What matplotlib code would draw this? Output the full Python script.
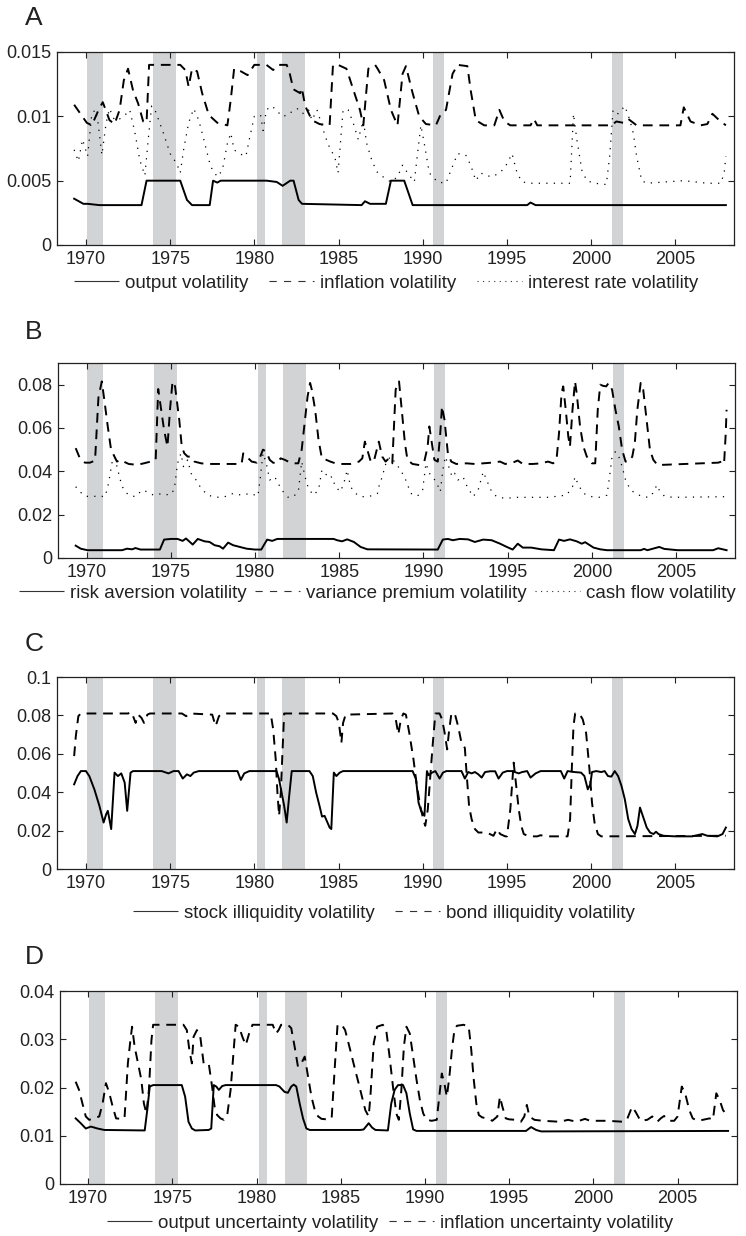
import matplotlib
matplotlib.use("Agg")
import matplotlib.pyplot as plt
from matplotlib.lines import Line2D

plt.rcParams['font.family'] = ['Liberation Sans', 'DejaVu Sans']

# ---------------- recession periods ----------------
rec_start = [1970.05, 1974.0, 1980.15, 1981.67, 1990.63, 2001.25]
rec_end = [1971.0, 1975.36, 1980.64, 1983.0, 1991.28, 2001.9]

xticks = [1970, 1975, 1980, 1985, 1990, 1995, 2000, 2005]

# ---------------- Panel A ----------------
a_out_t = [1969.3, 1969.85, 1970.1, 1970.8, 1973.3, 1973.6, 1975.6, 1976.0, 1976.3, 1977.35, 1977.55,
           1977.8, 1978.0, 1980.73, 1981.33, 1981.68, 1982.13, 1982.33, 1982.63, 1982.83, 1986.37,
           1986.57, 1986.87, 1987.81, 1988.11, 1988.9, 1989.4, 1996.2, 1996.4, 1996.7, 2008.0]
a_out_v = [0.0036, 0.0032, 0.0032, 0.0031, 0.0031, 0.0050, 0.0050, 0.0035, 0.0031, 0.0031, 0.0050,
           0.00485, 0.0050, 0.0050, 0.0049, 0.0046, 0.0050, 0.0050, 0.0035, 0.0032, 0.0031,
           0.0034, 0.0032, 0.0032, 0.0050, 0.0050, 0.0031, 0.0031, 0.0033, 0.0031, 0.0031]

a_inf_t = [1969.3, 1970.05, 1970.35, 1970.75, 1971.0, 1971.4, 1971.7, 1972.0, 1972.25, 1972.5, 1972.8,
           1973.1, 1973.4, 1973.6, 1973.75, 1975.6, 1975.9, 1976.1, 1976.3, 1976.6, 1976.9, 1977.3,
           1977.8, 1978.4, 1978.6, 1978.8, 1979.2, 1979.6, 1980.0, 1980.72, 1981.12, 1981.42, 1981.92,
           1982.07, 1982.32, 1982.72, 1982.82, 1983.02, 1983.42, 1983.87, 1984.47, 1984.67, 1984.97,
           1985.47, 1985.87, 1986.27, 1986.47, 1986.77, 1987.17, 1987.32, 1987.71, 1988.11, 1988.5,
           1988.8, 1989.0, 1989.4, 1989.79, 1990.19, 1990.78, 1991.08, 1991.38, 1991.77, 1992.07,
           1992.65, 1992.85, 1993.15, 1993.65, 1994.25, 1994.55, 1994.85, 1995.2, 1996.4, 1996.6,
           1996.8, 2001.2, 2001.5, 2001.9, 2002.2, 2002.7, 2005.3, 2005.5, 2005.9, 2006.5, 2006.9,
           2007.2, 2007.6, 2008.0]
a_inf_v = [0.0109, 0.0095, 0.0093, 0.0105, 0.0111, 0.0097, 0.0094, 0.0105, 0.0128, 0.0137, 0.0120,
           0.0110, 0.0096, 0.0095, 0.0140, 0.0140, 0.0136, 0.0123, 0.0137, 0.0135, 0.0118, 0.0101,
           0.0095, 0.0093, 0.0113, 0.0137, 0.0135, 0.0132, 0.0140, 0.0140, 0.0136, 0.0140, 0.0140,
           0.0135, 0.0121, 0.0118, 0.0122, 0.0108, 0.0097, 0.0094, 0.0093, 0.0140, 0.0140,
           0.0137, 0.0121, 0.0105, 0.0093, 0.0137, 0.0140, 0.0137, 0.0128, 0.0105, 0.0093,
           0.0133, 0.0139, 0.0118, 0.0100, 0.0094, 0.0093, 0.0102, 0.0105, 0.0133, 0.0140,
           0.0139, 0.0120, 0.0097, 0.0093, 0.0093, 0.0105, 0.0096, 0.0093, 0.0093, 0.0098,
           0.0093, 0.0093, 0.0096, 0.0095, 0.0098, 0.0093, 0.0093, 0.0107, 0.0096, 0.0093, 0.0094,
           0.0102, 0.0097, 0.0093]

a_int_t = [1969.3, 1969.55, 1969.8, 1970.1, 1970.35, 1970.55, 1970.7, 1970.95, 1971.2, 1971.4, 1971.7,
           1972.0, 1972.4, 1972.6, 1972.9, 1973.2, 1973.5, 1973.7, 1973.9, 1974.1, 1974.6, 1975.0,
           1975.4, 1975.6, 1975.8, 1976.1, 1976.4, 1976.7, 1977.0, 1977.4, 1977.8, 1978.1, 1978.4,
           1978.6, 1978.8, 1979.1, 1979.5, 1979.7, 1980.0, 1980.37, 1980.52, 1980.72, 1981.02, 1981.32,
           1981.62, 1982.02, 1982.32, 1982.62, 1982.92, 1983.22, 1983.42, 1983.72, 1983.92, 1984.22,
           1984.52, 1984.77, 1984.97, 1985.27, 1985.57, 1985.87, 1986.17, 1986.47, 1986.67, 1986.97,
           1987.27, 1987.52, 1988.11, 1988.5, 1988.8, 1989.1, 1989.5, 1989.69, 1989.89, 1990.09,
           1990.39, 1990.88, 1991.38, 1991.67, 1992.07, 1992.55, 1992.85, 1993.15, 1993.45, 1993.75,
           1994.15, 1994.65, 1995.0, 1995.3, 1995.6, 1995.9, 1996.4, 1998.75, 1998.95, 1999.15,
           1999.45, 1999.74, 2000.2, 2000.9, 2001.1, 2001.3, 2001.6, 2002.0, 2002.3, 2002.5, 2002.7,
           2003.0, 2003.3, 2005.5, 2006.9, 2007.7, 2007.9, 2008.0]
a_int_v = [0.0074, 0.0065, 0.0082, 0.0069, 0.0102, 0.0105, 0.0097, 0.0070, 0.0095, 0.0106, 0.0097,
           0.0098, 0.0102, 0.0105, 0.0088, 0.0066, 0.0054, 0.0082, 0.0108, 0.0105, 0.0087, 0.0071,
           0.0063, 0.0056, 0.0074, 0.0095, 0.0106, 0.0097, 0.0082, 0.0061, 0.0053, 0.0058, 0.0079,
           0.0087, 0.0074, 0.0071, 0.0069, 0.0082, 0.0100, 0.0101, 0.0089, 0.0105, 0.0108, 0.0105,
           0.0100, 0.0101, 0.0105, 0.0106, 0.0102, 0.0105, 0.0097, 0.0105, 0.0097, 0.0084,
           0.0074, 0.0069, 0.0056, 0.0105, 0.0105, 0.0095, 0.0082, 0.0097, 0.0079, 0.0066,
           0.0057, 0.0054, 0.0049, 0.0053, 0.0062, 0.0056, 0.0049, 0.0071, 0.0093, 0.0079,
           0.0056, 0.0049, 0.0048, 0.0058, 0.0071, 0.0070, 0.0062, 0.0050, 0.0056, 0.0054,
           0.0053, 0.0057, 0.0063, 0.0071, 0.0056, 0.0049, 0.0048, 0.0048, 0.0102, 0.0082,
           0.0058, 0.0050, 0.0048, 0.0047, 0.0069, 0.0105, 0.0102, 0.0108, 0.0097, 0.0087, 0.0069,
           0.0050, 0.0048, 0.0050, 0.0048, 0.0048, 0.0056, 0.0069]

# ---------------- Panel B ----------------
b_ra_t = [1969.35, 1969.65, 1970.05, 1972.1, 1972.4, 1972.7, 1972.9, 1973.2, 1974.35, 1974.6, 1975.0,
          1975.4, 1975.7, 1975.9, 1976.3, 1976.6, 1977.0, 1977.3, 1977.6, 1977.9, 1978.1, 1978.4,
          1978.7, 1979.1, 1979.5, 1980.0, 1980.37, 1980.52, 1980.72, 1981.02, 1981.32, 1984.67,
          1984.87, 1985.17, 1985.47, 1985.87, 1986.27, 1986.67, 1990.85, 1991.15, 1991.45, 1991.75,
          1992.15, 1992.65, 1993.05, 1993.55, 1994.05, 1994.55, 1994.95, 1995.3, 1995.6, 1995.9,
          1996.4, 1997.0, 1997.75, 1998.05, 1998.35, 1998.7, 1999.1, 1999.4, 1999.6, 2000.1, 2000.5,
          2000.9, 2002.9, 2003.1, 2003.3, 2004.0, 2004.3, 2004.7, 2005.1, 2007.2, 2007.5, 2008.0]
b_ra_v = [0.0057, 0.0043, 0.0036, 0.0036, 0.0043, 0.0040, 0.0046, 0.0039, 0.0039, 0.0085, 0.0088,
          0.0088, 0.0079, 0.0090, 0.0062, 0.0088, 0.0077, 0.0074, 0.0059, 0.0054, 0.0043, 0.0071,
          0.0059, 0.0051, 0.0043, 0.0039, 0.0039, 0.0059, 0.0085, 0.0079, 0.0088, 0.0088,
          0.0082, 0.0077, 0.0086, 0.0074, 0.0051, 0.0040, 0.0039, 0.0085, 0.0088, 0.0082,
          0.0088, 0.0086, 0.0074, 0.0085, 0.0082, 0.0066, 0.0051, 0.0039, 0.0066, 0.0048,
          0.0048, 0.0040, 0.0036, 0.0085, 0.0079, 0.0086, 0.0077, 0.0066, 0.0073, 0.0048, 0.0040,
          0.0036, 0.0036, 0.0042, 0.0036, 0.0051, 0.0042, 0.0039, 0.0036, 0.0036, 0.0045, 0.0036]

b_vp_t = [1969.35, 1969.6, 1969.9, 1970.2, 1970.5, 1970.7, 1970.9, 1971.05, 1971.25, 1971.45, 1971.65,
          1971.8, 1972.0, 1972.2, 1972.5, 1973.0, 1973.4, 1973.8, 1974.1, 1974.25, 1974.4, 1974.6,
          1974.8, 1974.95, 1975.1, 1975.25, 1975.5, 1975.65, 1975.8, 1976.0, 1976.2, 1976.4, 1976.8,
          1977.2, 1979.2, 1979.3, 1979.5, 1979.8, 1980.1, 1980.27, 1980.47, 1980.67, 1980.87, 1981.07,
          1981.27, 1981.52, 1981.77, 1981.97, 1982.27, 1982.57, 1982.77, 1982.97, 1983.12, 1983.27,
          1983.37, 1983.57, 1983.77, 1983.97, 1984.17, 1984.47, 1984.77, 1985.17, 1985.67, 1986.17,
          1986.37, 1986.52, 1986.67, 1986.87, 1987.05, 1987.35, 1987.55, 1987.75, 1987.95, 1988.15,
          1988.35, 1988.55, 1988.75, 1988.9, 1989.05, 1989.35, 1989.75, 1990.05, 1990.25, 1990.35,
          1990.5, 1990.65, 1990.85, 1991.0, 1991.1, 1991.25, 1991.45, 1991.65, 1991.95, 1992.55,
          1993.05, 1993.55, 1994.05, 1994.55, 1994.85, 1995.3, 1995.6, 1995.9, 1996.5, 1997.0, 1997.4,
          1997.7, 1997.9, 1998.05, 1998.2, 1998.3, 1998.45, 1998.6, 1998.7, 1998.85, 1999.0, 1999.1,
          1999.3, 1999.5, 1999.7, 2000.0, 2000.2, 2000.35, 2000.5, 2000.65, 2000.85, 2001.0, 2001.2,
          2001.4, 2001.6, 2001.8, 2002.0, 2002.2, 2002.4, 2002.55, 2002.7, 2002.9, 2003.05, 2003.25,
          2003.45, 2003.65, 2003.9, 2007.5, 2007.7, 2007.85, 2007.95, 2008.0]
b_vp_v = [0.0507, 0.0460, 0.0440, 0.0440, 0.0450, 0.0740, 0.0815, 0.0730, 0.0610, 0.0500, 0.0468,
          0.0445, 0.0453, 0.0445, 0.0434, 0.0430, 0.0437, 0.0445, 0.0453, 0.0780, 0.0700, 0.0590,
          0.0514, 0.0684, 0.0815, 0.0792, 0.0638, 0.0514, 0.0483, 0.0468, 0.0468, 0.0445, 0.0437,
          0.0434, 0.0434, 0.0483, 0.0468, 0.0445, 0.0440, 0.0460, 0.0500, 0.0491, 0.0453, 0.0440,
          0.0437, 0.0460, 0.0453, 0.0445, 0.0437, 0.0437, 0.0500, 0.0638, 0.0746, 0.0808, 0.0777,
          0.0684, 0.0545, 0.0460, 0.0455, 0.0445, 0.0437, 0.0434, 0.0434, 0.0445, 0.0460, 0.0537,
          0.0499, 0.0445, 0.0445, 0.0537, 0.0468, 0.0445, 0.0460, 0.0437, 0.0777, 0.0815, 0.0653,
          0.0530, 0.0453, 0.0434, 0.0429, 0.0445, 0.0514, 0.0607, 0.0530, 0.0453, 0.0445, 0.0576,
          0.0700, 0.0638, 0.0483, 0.0445, 0.0434, 0.0437, 0.0434, 0.0437, 0.0440, 0.0445, 0.0434,
          0.0440, 0.0450, 0.0434, 0.0434, 0.0437, 0.0445, 0.0437, 0.0453, 0.0576, 0.0761, 0.0792,
          0.0684, 0.0561, 0.0514, 0.0684, 0.0815, 0.0761, 0.0607, 0.0514, 0.0468, 0.0437, 0.0437,
          0.0684, 0.0800, 0.0795, 0.0792, 0.0808, 0.0777, 0.0684, 0.0607, 0.0499, 0.0445, 0.0445,
          0.0468, 0.0530, 0.0684, 0.0808, 0.0777, 0.0638, 0.0499, 0.0453, 0.0429, 0.0440, 0.0445,
          0.0434, 0.0576, 0.0684]

b_cf_t = [1969.35, 1969.6, 1969.9, 1970.2, 1970.7, 1971.1, 1971.3, 1971.5, 1971.65, 1971.8, 1972.0,
          1972.2, 1972.5, 1972.9, 1973.2, 1973.4, 1973.7, 1974.0, 1974.5, 1974.9, 1975.2, 1975.4,
          1975.6, 1975.75, 1976.0, 1976.2, 1976.5, 1976.8, 1977.2, 1977.7, 1978.2, 1978.7, 1979.2,
          1979.7, 1980.17, 1980.32, 1980.47, 1980.67, 1980.87, 1981.17, 1981.37, 1981.67, 1981.97,
          1982.27, 1982.57, 1982.77, 1982.97, 1983.17, 1983.47, 1983.77, 1983.97, 1984.17, 1984.37,
          1984.57, 1984.77, 1985.07, 1985.27, 1985.47, 1985.67, 1985.97, 1986.27, 1986.67, 1987.07,
          1987.27, 1987.35, 1987.55, 1987.8, 1988.05, 1988.35, 1988.65, 1988.95, 1989.25, 1989.65,
          1989.95, 1990.15, 1990.35, 1990.55, 1990.8, 1991.0, 1991.15, 1991.3, 1991.5, 1991.7, 1991.85,
          1992.05, 1992.35, 1992.55, 1992.95, 1993.25, 1993.55, 1993.75, 1994.05, 1994.35, 1994.85,
          1995.5, 1996.5, 1997.5, 1998.0, 1998.5, 1998.85, 1999.0, 1999.2, 1999.5, 2000.0, 2000.5,
          2000.9, 2001.05, 2001.2, 2001.4, 2001.6, 2001.8, 2002.0, 2002.3, 2002.6, 2003.0, 2003.4,
          2003.7, 2003.85, 2004.0, 2004.3, 2004.8, 2008.0]
b_cf_v = [0.0329, 0.0306, 0.0286, 0.0283, 0.0286, 0.0283, 0.0344, 0.0437, 0.0483, 0.0422, 0.0360,
          0.0314, 0.0290, 0.0283, 0.0306, 0.0314, 0.0298, 0.0290, 0.0298, 0.0290, 0.0314, 0.0437,
          0.0483, 0.0422, 0.0453, 0.0391, 0.0360, 0.0321, 0.0290, 0.0280, 0.0283, 0.0298, 0.0290,
          0.0298, 0.0286, 0.0375, 0.0483, 0.0437, 0.0360, 0.0375, 0.0344, 0.0306, 0.0280,
          0.0283, 0.0306, 0.0445, 0.0375, 0.0321, 0.0290, 0.0314, 0.0406, 0.0391, 0.0368,
          0.0375, 0.0329, 0.0306, 0.0344, 0.0406, 0.0329, 0.0298, 0.0283, 0.0283, 0.0290,
          0.0298, 0.0329, 0.0375, 0.0445, 0.0468, 0.0437, 0.0406, 0.0360, 0.0298, 0.0286,
          0.0314, 0.0437, 0.0391, 0.0375, 0.0344, 0.0306, 0.0406, 0.0468, 0.0422, 0.0375, 0.0391,
          0.0360, 0.0375, 0.0337, 0.0283, 0.0314, 0.0398, 0.0360, 0.0306, 0.0283, 0.0275,
          0.0280, 0.0280, 0.0280, 0.0286, 0.0290, 0.0329, 0.0375, 0.0337, 0.0298, 0.0283, 0.0280,
          0.0290, 0.0375, 0.0468, 0.0491, 0.0468, 0.0422, 0.0360, 0.0314, 0.0298, 0.0283, 0.0280,
          0.0306, 0.0337, 0.0314, 0.0286, 0.0280, 0.0283]

# ---------------- Panel C ----------------
c_st_t = [1969.3, 1969.5, 1969.7, 1970.0, 1970.2, 1970.5, 1970.8, 1971.05, 1971.2, 1971.3, 1971.5,
          1971.7, 1971.9, 1972.1, 1972.3, 1972.45, 1972.65, 1972.8, 1974.5, 1974.9, 1975.2, 1975.5,
          1975.75, 1976.0, 1976.2, 1976.4, 1976.7, 1979.0, 1979.2, 1979.4, 1979.7, 1981.32, 1981.47,
          1981.62, 1981.77, 1981.92, 1982.07, 1982.22, 1983.27, 1983.47, 1983.67, 1983.87, 1984.02,
          1984.17, 1984.47, 1984.57, 1984.72, 1984.87, 1985.07, 1985.27, 1989.4, 1989.6, 1989.75,
          1989.9, 1990.1, 1990.25, 1990.35, 1990.55, 1990.75, 1991.0, 1991.2, 1991.4, 1992.3, 1992.5,
          1992.7, 1992.9, 1993.1, 1993.3, 1993.5, 1993.7, 1994.0, 1994.3, 1994.5, 1994.75, 1995.0,
          1995.3, 1995.7, 1995.9, 1996.2, 1996.4, 1996.7, 1997.0, 1998.2, 1998.4, 1998.6, 1999.0,
          1999.4, 1999.6, 1999.8, 1999.95, 2000.05, 2000.3, 2000.6, 2000.8, 2001.0, 2001.2, 2001.4,
          2001.6, 2001.8, 2002.0, 2002.2, 2002.4, 2002.6, 2002.75, 2002.9, 2003.1, 2003.3, 2003.5,
          2003.7, 2003.85, 2004.0, 2004.3, 2005.0, 2006.0, 2006.6, 2006.9, 2007.5, 2007.8, 2008.0]
c_st_v = [0.0441, 0.0484, 0.0510, 0.0510, 0.0484, 0.0415, 0.0329, 0.0242, 0.0285, 0.0303, 0.0208,
          0.0502, 0.0484, 0.0498, 0.0450, 0.0303, 0.0502, 0.0510, 0.0510, 0.0498, 0.0510, 0.0510,
          0.0471, 0.0493, 0.0484, 0.0502, 0.0510, 0.0510, 0.0464, 0.0498, 0.0510, 0.0510, 0.0467,
          0.0398, 0.0329, 0.0242, 0.0381, 0.0510, 0.0510, 0.0484, 0.0398, 0.0329, 0.0273,
          0.0277, 0.0216, 0.0208, 0.0502, 0.0484, 0.0502, 0.0510, 0.0510, 0.0467, 0.0346,
          0.0303, 0.0277, 0.0510, 0.0488, 0.0502, 0.0510, 0.0471, 0.0502, 0.0510, 0.0510, 0.0471,
          0.0505, 0.0498, 0.0505, 0.0493, 0.0476, 0.0505, 0.0509, 0.0509, 0.0471, 0.0502, 0.0510,
          0.0510, 0.0498, 0.0505, 0.0510, 0.0476, 0.0498, 0.0510, 0.0510, 0.0471, 0.0510, 0.0505,
          0.0502, 0.0484, 0.0415, 0.0441, 0.0505, 0.0510, 0.0505, 0.0510, 0.0484, 0.0481, 0.0510,
          0.0484, 0.0433, 0.0363, 0.0260, 0.0208, 0.0182, 0.0225, 0.0320, 0.0268, 0.0216, 0.0190,
          0.0182, 0.0194, 0.0182, 0.0173, 0.0170, 0.0170, 0.0182, 0.0173, 0.0170, 0.0182, 0.0216]

c_bd_t = [1969.3, 1969.4, 1969.55, 1969.7, 1972.5, 1972.7, 1972.8, 1972.95, 1973.1, 1973.3, 1973.45,
          1973.65, 1973.8, 1975.7, 1975.95, 1976.2, 1977.5, 1977.7, 1977.9, 1978.1, 1980.97, 1981.12,
          1981.27, 1981.37, 1981.47, 1981.57, 1981.67, 1981.77, 1984.67, 1984.87, 1985.02, 1985.17,
          1985.27, 1985.42, 1988.2, 1988.4, 1988.55, 1988.7, 1988.85, 1989.0, 1989.2, 1989.45, 1989.65,
          1989.85, 1990.05, 1990.15, 1990.3, 1990.45, 1990.6, 1990.75, 1991.0, 1991.15, 1991.3,
          1991.45, 1991.55, 1991.7, 1991.9, 1992.1, 1992.3, 1992.5, 1992.6, 1992.75, 1992.9, 1993.1,
          1993.3, 1993.8, 1994.2, 1994.4, 1994.6, 1994.9, 1995.0, 1995.2, 1995.3, 1995.4, 1995.55,
          1995.7, 1995.85, 1996.0, 1996.3, 1996.8, 1997.0, 1997.3, 1998.6, 1998.75, 1998.85, 1998.95,
          1999.05, 1999.3, 1999.5, 1999.7, 1999.9, 2000.05, 2000.2, 2000.4, 2000.6, 2008.0]
c_bd_v = [0.0588, 0.0692, 0.0796, 0.0810, 0.0810, 0.0817, 0.0796, 0.0761, 0.0804, 0.0787, 0.0761,
          0.0804, 0.0810, 0.0810, 0.0796, 0.0810, 0.0804, 0.0744, 0.0796, 0.0810, 0.0810, 0.0727,
          0.0571, 0.0398, 0.0277, 0.0398, 0.0606, 0.0810, 0.0810, 0.0796, 0.0761, 0.0657,
          0.0761, 0.0804, 0.0810, 0.0779, 0.0701, 0.0779, 0.0810, 0.0804, 0.0709, 0.0571, 0.0433,
          0.0329, 0.0251, 0.0225, 0.0311, 0.0484, 0.0657, 0.0810, 0.0810, 0.0779, 0.0709,
          0.0623, 0.0709, 0.0810, 0.0810, 0.0744, 0.0657, 0.0631, 0.0502, 0.0329, 0.0260, 0.0208,
          0.0190, 0.0190, 0.0173, 0.0208, 0.0182, 0.0170, 0.0170, 0.0311, 0.0433, 0.0554, 0.0433,
          0.0311, 0.0225, 0.0182, 0.0170, 0.0170, 0.0176, 0.0170, 0.0170, 0.0260, 0.0519, 0.0744,
          0.0810, 0.0810, 0.0779, 0.0709, 0.0519, 0.0346, 0.0242, 0.0182, 0.0170, 0.0173]

# ---------------- Panel D ----------------
d_out_t = [1969.26, 1969.56, 1969.86, 1970.16, 1970.56, 1970.96, 1973.36, 1973.51, 1973.66, 1973.86,
           1975.56, 1975.76, 1975.96, 1976.16, 1976.36, 1977.16, 1977.31, 1977.46, 1977.61, 1977.76,
           1977.96, 1978.16, 1981.16, 1981.36, 1981.66, 1981.86, 1982.06, 1982.21, 1982.36, 1982.56,
           1982.76, 1982.96, 1983.16, 1986.16, 1986.36, 1986.66, 1986.86, 1987.06, 1987.8, 1988.0,
           1988.2, 1988.4, 1988.7, 1988.9, 1989.1, 1989.3, 1989.5, 1996.0, 1996.3, 1996.6, 1996.9,
           2008.0]
d_out_v = [0.0136, 0.0126, 0.0115, 0.0119, 0.0115, 0.0112, 0.0111, 0.0153, 0.0202, 0.0205,
           0.0205, 0.0181, 0.0129, 0.0115, 0.0111, 0.0112, 0.0115, 0.0205, 0.0202, 0.0195,
           0.0203, 0.0205, 0.0205, 0.0202, 0.0191, 0.0189, 0.0202, 0.0206, 0.0202, 0.0167,
           0.0136, 0.0115, 0.0112, 0.0112, 0.0113, 0.0126, 0.0117, 0.0112, 0.0111, 0.0167,
           0.0195, 0.0205, 0.0205, 0.0188, 0.0146, 0.0113, 0.0110, 0.0110, 0.0118, 0.0112, 0.0109,
           0.0110]

d_inf_t = [1969.26, 1969.46, 1969.66, 1969.86, 1970.06, 1970.36, 1970.66, 1970.86, 1971.06, 1971.26,
           1971.46, 1971.66, 1971.96, 1972.16, 1972.36, 1972.51, 1972.61, 1972.76, 1972.96, 1973.16,
           1973.31, 1973.46, 1973.61, 1973.76, 1973.86, 1975.66, 1975.86, 1976.01, 1976.16, 1976.26,
           1976.46, 1976.66, 1976.86, 1977.16, 1977.36, 1977.51, 1977.66, 1977.86, 1978.06, 1978.26,
           1978.46, 1978.61, 1978.76, 1978.96, 1979.16, 1979.36, 1979.56, 1979.76, 1980.96, 1981.16,
           1981.31, 1981.46, 1981.86, 1982.06, 1982.26, 1982.46, 1982.66, 1982.86, 1983.06, 1983.26,
           1983.46, 1983.66, 1983.86, 1984.16, 1984.46, 1984.66, 1984.81, 1985.06, 1985.26, 1985.46,
           1985.66, 1985.86, 1986.06, 1986.26, 1986.46, 1986.66, 1986.76, 1986.96, 1987.16, 1987.5,
           1987.7, 1987.9, 1988.1, 1988.3, 1988.45, 1988.6, 1988.75, 1988.9, 1989.1, 1989.3, 1989.5,
           1989.7, 1989.9, 1990.1, 1990.4, 1990.7, 1990.85, 1991.0, 1991.15, 1991.3, 1991.45, 1991.6,
           1991.75, 1991.9, 1992.3, 1992.6, 1992.75, 1992.9, 1993.05, 1993.2, 1993.4, 1993.7, 1994.0,
           1994.3, 1994.45, 1994.6, 1994.8, 1995.0, 1995.4, 1995.7, 1995.9, 1996.05, 1996.2, 1996.5,
           1997.0, 1998.0, 1998.5, 1999.0, 1999.5, 1999.8, 2000.8, 2001.8, 2002.0, 2002.3, 2002.5,
           2002.8, 2003.2, 2003.5, 2003.8, 2004.0, 2004.2, 2004.5, 2004.8, 2005.0, 2005.25, 2005.45,
           2005.7, 2005.9, 2006.2, 2006.5, 2006.9, 2007.1, 2007.3, 2007.5, 2007.7, 2008.0]
d_inf_v = [0.0212, 0.0195, 0.0167, 0.0140, 0.0133, 0.0136, 0.0140, 0.0167, 0.0209, 0.0188,
           0.0160, 0.0136, 0.0135, 0.0136, 0.0250, 0.0298, 0.0326, 0.0285, 0.0250, 0.0216,
           0.0167, 0.0146, 0.0195, 0.0298, 0.0330, 0.0330, 0.0319, 0.0278, 0.0250, 0.0305,
           0.0319, 0.0305, 0.0250, 0.0250, 0.0202, 0.0160, 0.0143, 0.0136, 0.0133, 0.0143,
           0.0195, 0.0264, 0.0330, 0.0326, 0.0305, 0.0288, 0.0312, 0.0330, 0.0330, 0.0312,
           0.0319, 0.0330, 0.0330, 0.0323, 0.0285, 0.0243, 0.0250, 0.0264, 0.0222, 0.0181,
           0.0153, 0.0140, 0.0135, 0.0134, 0.0136, 0.0250, 0.0330, 0.0330, 0.0319, 0.0292,
           0.0264, 0.0236, 0.0209, 0.0181, 0.0153, 0.0140, 0.0181, 0.0292, 0.0326, 0.0330,
           0.0319, 0.0264, 0.0202, 0.0146, 0.0133, 0.0195, 0.0285, 0.0326, 0.0312, 0.0264, 0.0216,
           0.0174, 0.0146, 0.0133, 0.0131, 0.0133, 0.0181, 0.0229, 0.0209, 0.0181, 0.0222, 0.0278,
           0.0319, 0.0328, 0.0330, 0.0326, 0.0278, 0.0216, 0.0167, 0.0143, 0.0138, 0.0136, 0.0131,
           0.0140, 0.0181, 0.0160, 0.0136, 0.0134, 0.0133, 0.0129, 0.0140, 0.0164, 0.0140, 0.0133,
           0.0131, 0.0129, 0.0133, 0.0129, 0.0135, 0.0131, 0.0131, 0.0129, 0.0134, 0.0160, 0.0150,
           0.0131, 0.0133, 0.0140, 0.0129, 0.0136, 0.0141, 0.0131, 0.0131, 0.0140, 0.0202, 0.0188,
           0.0153, 0.0136, 0.0131, 0.0133, 0.0136, 0.0133, 0.0188, 0.0174, 0.0153, 0.0140]

# ---------------- styles ----------------
SOLID = dict(color='black', lw=1.4, linestyle='-')
DASH = dict(color='black', lw=1.4, linestyle=(0, (5, 3.5)))
DOT = dict(color='black', lw=0.9, linestyle=(0, (1, 5)))
LEG = {'-': (0, ()), '--': (0, (6.5, 6.5)), ':': (0, (1, 4))}

W, H = 746, 1236
fig = plt.figure(figsize=(W / 100, H / 100), dpi=100)

panels = [
    dict(label='A', top=52, bot=245, lr=(57.3, 734.3), ylim=(0, 0.015),
         yticks=[0, 0.005, 0.01, 0.015], yfmt=['0', '0.005', '0.01', '0.015'],
         series=[(a_out_t, a_out_v, SOLID, '-', 'output volatility'),
                 (a_inf_t, a_inf_v, DASH, '--', 'inflation volatility'),
                 (a_int_t, a_int_v, DOT, ':', 'interest rate volatility')],
         leg_y=283, leg_x=386, lab_y=18, colsp=1.1),
    dict(label='B', top=363, bot=558, lr=(58.0, 735.0), ylim=(0, 0.09),
         yticks=[0, 0.02, 0.04, 0.06, 0.08], yfmt=['0', '0.02', '0.04', '0.06', '0.08'],
         series=[(b_ra_t, b_ra_v, SOLID, '-', 'risk aversion volatility'),
                 (b_vp_t, b_vp_v, DASH, '--', 'variance premium volatility'),
                 (b_cf_t, b_cf_v, DOT, ':', 'cash flow volatility')],
         leg_y=593, leg_x=377, lab_y=332, colsp=0.45),
    dict(label='C', top=677, bot=869, lr=(57.3, 734.3), ylim=(0, 0.1),
         yticks=[0, 0.02, 0.04, 0.06, 0.08, 0.1], yfmt=['0', '0.02', '0.04', '0.06', '0.08', '0.1'],
         series=[(c_st_t, c_st_v, SOLID, '-', 'stock illiquidity volatility'),
                 (c_bd_t, c_bd_v, DASH, '--', 'bond illiquidity volatility')],
         leg_y=913, leg_x=384, lab_y=644, colsp=1.1),
    dict(label='D', top=991, bot=1184, lr=(59.5, 736.5), ylim=(0, 0.04),
         yticks=[0, 0.01, 0.02, 0.03, 0.04], yfmt=['0', '0.01', '0.02', '0.03', '0.04'],
         series=[(d_out_t, d_out_v, SOLID, '-', 'output uncertainty volatility'),
                 (d_inf_t, d_inf_v, DASH, '--', 'inflation uncertainty volatility')],
         leg_y=1223, leg_x=390, lab_y=957, colsp=0.6),
]

for p in panels:
    l, r = p['lr']
    ax = fig.add_axes([l / W, 1 - p['bot'] / H, (r - l) / W, (p['bot'] - p['top']) / H])
    for s, e in zip(rec_start, rec_end):
        ax.axvspan(s, e, color='#d2d3d5', lw=0, zorder=0)
    handles = []
    for t, v, st, key, name in p['series']:
        ax.plot(t, v, zorder=3, **st)
        handles.append(Line2D([], [], label=name, color='#333333', lw=0.8, linestyle=LEG[key]))
    ax.set_xlim(1968.3, 2008.5)
    ax.set_ylim(*p['ylim'])
    ax.set_xticks(xticks)
    ax.set_yticks(p['yticks'])
    ax.set_yticklabels(p['yfmt'])
    ax.tick_params(direction='in', top=True, right=True, length=4, width=0.8,
                   labelsize=13, pad=4, colors='#222222', labelcolor='#222222')
    for sp in ax.spines.values():
        sp.set_linewidth(0.9)
        sp.set_color('#222222')
    fig.text(25 / W, 1 - p['lab_y'] / H, p['label'], fontsize=19, va='center', ha='left',
             color='#222222')
    fig.legend(handles=handles, loc='center', bbox_to_anchor=(p['leg_x'] / W, 1 - p['leg_y'] / H),
               ncol=len(handles), frameon=False, fontsize=13.5, handlelength=2.4,
               handletextpad=0.32, columnspacing=p['colsp'], borderpad=0, labelcolor='#222222')

fig.savefig('out.png', dpi=100)
